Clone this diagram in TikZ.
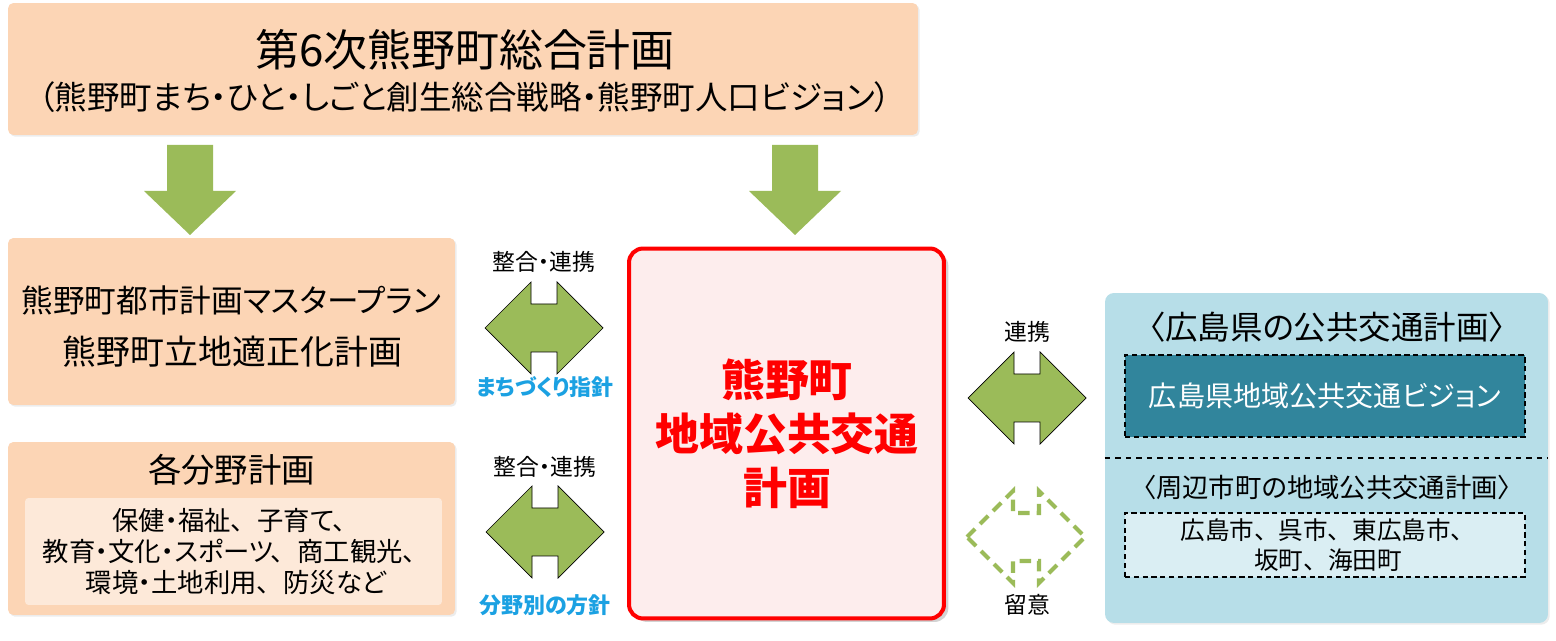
\documentclass[tikz,border=0pt]{standalone}
\usepackage{fontspec}
\setmainfont{Noto Sans CJK JP}[CharacterWidth=AlternateProportional]
\usetikzlibrary{positioning,shadows}
\definecolor{Peach}{HTML}{FCD5B5}
\definecolor{PeachLight}{HTML}{FDE9D9}
\definecolor{Leaf}{HTML}{9BBB59}
\definecolor{SkyText}{HTML}{1BA1E2}
\definecolor{Blush}{HTML}{FDEDED}
\definecolor{PrefBlue}{HTML}{B7DEE8}
\definecolor{Teal}{HTML}{31859C}
\definecolor{Ice}{HTML}{DAEEF3}
% full-width ideographic comma
\newcommand{\tou}{、\kern0.5em}
% left-right block arrow (name, centre, style)
\newcommand{\lrarrow}[3]{\coordinate (#1) at (#2);
  \draw[#3] (#1) ++(-59,0) -- ++(46,-46) -- ++(0,22) -- ++(26,0) -- ++(0,-22)
    -- ++(46,46) -- ++(-46,46) -- ++(0,-22) -- ++(-26,0) -- ++(0,22) -- cycle;}
% downward block arrow (name, top centre)
\newcommand{\dnarrow}[2]{\coordinate (#1) at (#2);
  \fill[Leaf] (#1) ++(-23,0) -- ++(0,46) -- ++(-23,0) -- ++(46,44)
    -- ++(46,-44) -- ++(-23,0) -- ++(0,-46) -- cycle;}

\begin{document}
\begin{tikzpicture}[
  x=0.02cm, y=-0.02cm,
  peachbox/.style={fill=Peach, rounded corners=3pt, inner sep=0pt,
    drop shadow={opacity=0.15, shadow xshift=1pt, shadow yshift=-1pt}},
  bluebox/.style={draw=black, dash pattern=on 3pt off 2pt, line width=0.9pt, inner sep=0pt},
  lbl/.style={font=\fontsize{13}{15}\selectfont},
  hint/.style={font=\fontsize{12.5}{15}\selectfont\bfseries, text=SkyText},
]
\useasboundingbox (0,0) rectangle (1556,641);

%% ── Comprehensive plan ───────────────────────────────────────────────────
\node[peachbox, minimum width=18.2cm, minimum height=2.64cm] (plan6) at (463,69) {};
\node[font=\fontsize{25}{30}\selectfont] (plan6t) at (465,50) {第6次熊野町総合計画};
\node[font=\fontsize{18.5}{22}\selectfont] (plan6s) at (465,97)
  {（熊野町まち・ひと・しごと創生総合戦略・熊野町人口ビジョン）};

\dnarrow{dnL}{190,145}
\dnarrow{dnR}{795,145}

%% ── Left side plans ──────────────────────────────────────────────────────
\node[peachbox, minimum width=8.94cm, minimum height=3.34cm] (toshi) at (231.5,321.5) {};
\node[font=\fontsize{18}{22}\selectfont] (toshi1) at (231.5,300) {熊野町都市計画マスタープラン};
\node[font=\fontsize{19.3}{22}\selectfont] (toshi2) at (232.5,352) {熊野町立地適正化計画};

\node[peachbox, minimum width=8.94cm, minimum height=3.46cm] (bunya) at (231.5,528.5) {};
\node[font=\fontsize{19}{22}\selectfont] (bunyat) at (231.5,470) {各分野計画};
\node[fill=PeachLight, rounded corners=2pt, minimum width=8.34cm,
  minimum height=2.14cm, inner sep=0pt] (bunyain) at (233.5,551.5) {};
\node[font=\fontsize{15}{17.6}\selectfont, align=center] (bunyal) at (236,551.5)
  {保健・福祉\tou 子育て\tou\\教育・文化・スポーツ\tou 商工観光\tou\\環境・土地利用\tou 防災など};

%% ── Links to the left plans ──────────────────────────────────────────────
\node[lbl] (sei1) at (544,262) {整合・連携};
\lrarrow{arr1}{544,328}{fill=Leaf}
\node[hint] (hint1) at (545,387) {まちづくり指針};

\node[lbl] (sei2) at (545,467) {整合・連携};
\lrarrow{arr2}{545,532}{fill=Leaf}
\node[hint] (hint2) at (545,605) {分野別の方針};

%% ── Town public transport plan ───────────────────────────────────────────
\node[draw=red, fill=Blush, line width=2.3pt, rounded corners=0.28cm,
  minimum width=6.3cm, minimum height=7.4cm, inner sep=0pt,
  drop shadow={opacity=0.35, shadow xshift=2.5pt, shadow yshift=-2pt}] (town) at (786.5,433.5) {};
\node[font=\fontsize{25}{30.6}\selectfont\bfseries, text=red, align=center] (townt) at (787,434)
  {熊野町\\地域公共交通\\計画};

%% ── Links to the prefecture ──────────────────────────────────────────────
\node[lbl] (renkei) at (1027,332) {連携};
\lrarrow{arr3}{1027,398}{fill=Leaf}
\lrarrow{arr4}{1026,537}{draw=Leaf, line width=2.3pt, dash pattern=on 6.5pt off 4pt}
\node[lbl] (ryui) at (1027,605) {留意};

%% ── Prefecture and neighbour plans ───────────────────────────────────────
\node[fill=PrefBlue, rounded corners=5pt, minimum width=8.86cm, minimum height=6.6cm,
  inner sep=0pt, drop shadow={opacity=0.15, shadow xshift=1pt, shadow yshift=-1pt}] (pref) at (1326.5,458) {};
\node[font=\fontsize{18.5}{22}\selectfont] (preft) at (1327,327) {〈広島県の公共交通計画〉};
\node[bluebox, fill=Teal, minimum width=8cm, minimum height=1.64cm,
  font=\fontsize{16}{20}\selectfont, text=white] (vision) at (1325,396)
  {広島県地域公共交通ビジョン};
\draw[dashed, line width=0.7pt] (pref.west |- 0,458) -- (pref.east |- 0,458);
\node[font=\fontsize{15}{18}\selectfont] (neart) at (1327,487) {〈周辺市町の地域公共交通計画〉};
\node[bluebox, fill=Ice, minimum width=8cm, minimum height=1.28cm] (near) at (1325,545) {};
\node[font=\fontsize{14}{17}\selectfont, align=center] (nearl) at (1328,545)
  {広島市\tou 呉市\tou 東広島市\tou\\坂町\tou 海田町};

\end{tikzpicture}
\end{document}
